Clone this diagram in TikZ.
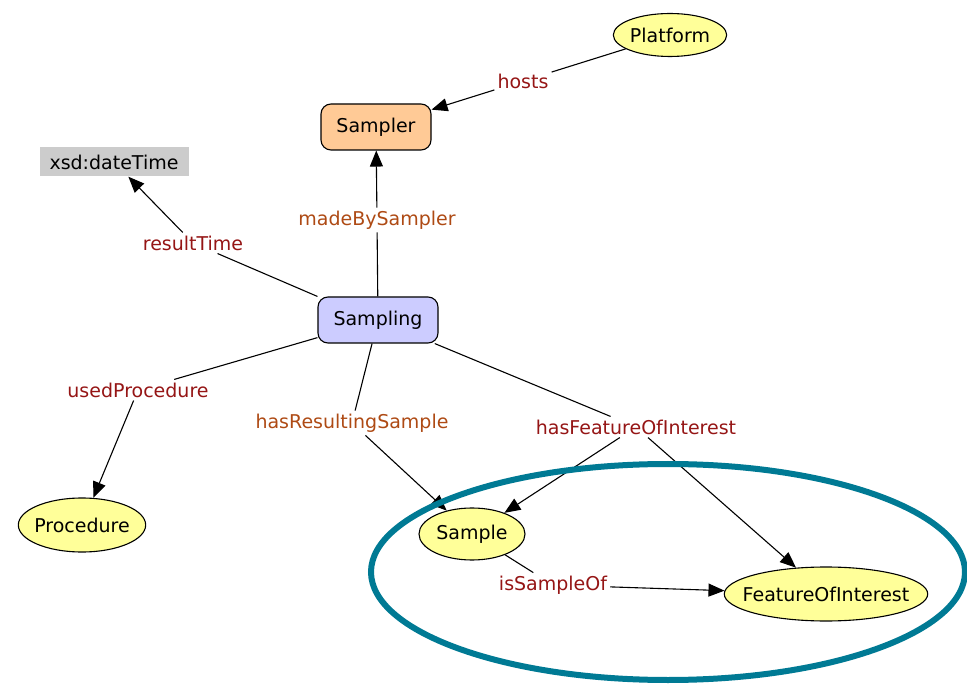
\documentclass[tikz,border=0pt]{standalone}
\usepackage{fontspec}
\setmainfont{DejaVu Sans}
\usepackage{xcolor}
\usepackage{tikz}
\usetikzlibrary{shapes.geometric,arrows.meta}
\definecolor{nodeyellow}{HTML}{FFFF99}
\definecolor{nodepeach}{HTML}{FFCA96}
\definecolor{nodelilac}{HTML}{CCCCFF}
\definecolor{litgray}{HTML}{CCCCCC}
\definecolor{propred}{HTML}{951515}
\definecolor{propbrown}{HTML}{AE4A14}
\definecolor{ringteal}{HTML}{007A94}
\tikzset{
    every node/.style={
        align=center,
        font=\fontsize{19}{22}\selectfont
    },
    concept/.style={
        ellipse,
        draw,
        line width=1.1pt,
        fill=nodeyellow,
        inner sep=0pt
    },
    agent/.style={
        rectangle,
        rounded corners=10pt,
        draw,
        line width=1.1pt,
        fill=nodepeach,
        minimum width=110pt,
        minimum height=46pt
    },
    activity/.style={
        agent,
        fill=nodelilac,
        minimum width=120pt
    },
    literal/.style={
        rectangle,
        fill=litgray,
        minimum width=149pt,
        minimum height=29pt
    },
    prop/.style={
        text=propred,
        inner sep=3pt
    }
}

\begin{document}
\begin{tikzpicture}[x=1pt, y=-1pt, >={Triangle[length=16pt,width=13pt]},
    link/.style={line width=1.1pt},
    ring/.style={draw=ringteal, line width=6pt}]
\useasboundingbox (0,0) rectangle (967,684);

% classes
\node[concept, minimum width=112pt, minimum height=43pt] (platform) at (670,35) {Platform};
\node[agent] (sampler) at (376,127) {Sampler};
\node[literal] (datetime) at (114,162) {xsd:dateTime};
\node[activity] (sampling) at (378,320) {Sampling};
\node[concept, inner xsep=-2.7pt, minimum height=54pt] (procedure) at (82,525) {Procedure};
\node[concept, minimum width=106pt, minimum height=52pt] (sample) at (472,534) {Sample};
\node[concept, inner xsep=-11.4pt, minimum height=54pt] (foi) at (826,594) {FeatureOfInterest};

% properties
\node[prop] (hosts) at (523,81) {hosts};
\node[prop, text=propbrown] (madeby) at (377,220) {madeBySampler};
\node[prop] (resulttime) at (193,243) {resultTime};
\node[prop] (usedproc) at (138,390) {usedProcedure};
\node[prop, text=propbrown] (hasresult) at (352,423) {hasResultingSample};
\node[prop] (hasfoi) at (636,427) {hasFeatureOfInterest};
\node[prop] (issample) at (553,585) {isSampleOf};

\draw[link] (platform) -- (hosts);
\draw[link,->] (hosts) -- (sampler);
\draw[link] (sampling) -- (madeby);
\draw[link,->] (madeby) -- (sampler);
\draw[link] (sampling.north west) -- (resulttime);
\draw[link,->] (resulttime) -- (datetime);
\draw[link] (sampling) -- (usedproc);
\draw[link,->] (usedproc) -- (procedure);
\draw[link] (sampling) -- (hasresult);
\draw[link,->] (hasresult) -- (sample);
\draw[link] (sampling) -- (hasfoi);
\draw[link,->] (hasfoi) -- (sample);
\draw[link,->] (hasfoi) -- (foi);
\draw[link] (sample) -- (issample);
\draw[link,->] (issample) -- (foi);

% highlight
\draw[ring] (668,572) ellipse [x radius=297, y radius=108];
\end{tikzpicture}
\end{document}
